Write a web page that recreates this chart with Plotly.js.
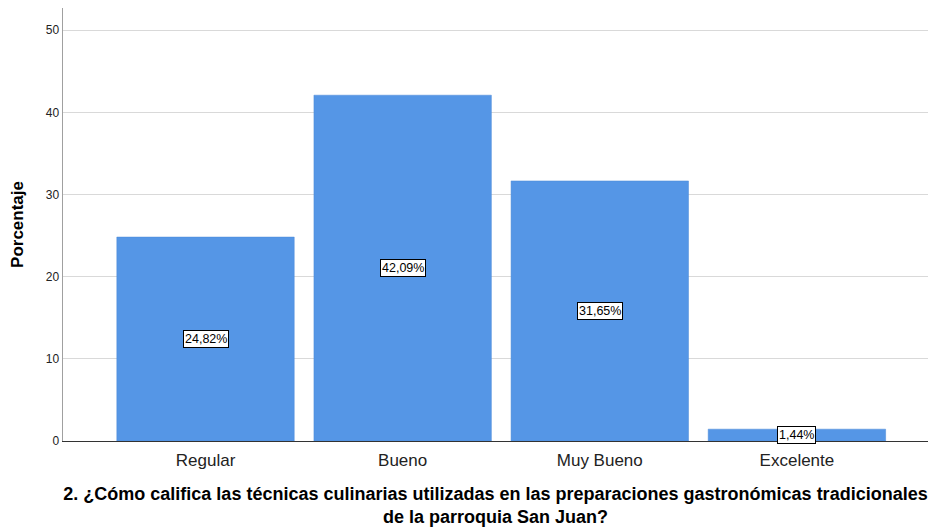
<!DOCTYPE html>
<html>
<head>
<meta charset="utf-8">
<script src="https://cdn.plot.ly/plotly-3.0.1.min.js"></script>
<style>html,body{margin:0;padding:0;background:#fff;}#chart{width:928px;height:527px;}</style>
</head>
<body>
<div id="chart"></div>
<script>
const categories = ["Regular", "Bueno", "Muy Bueno", "Excelente"];
const values = [24.82, 42.09, 31.65, 1.44];
const labels = ["24,82%", "42,09%", "31,65%", "1,44%"];
const yTicks = [0, 10, 20, 30, 40, 50];

const trace = {
  type: "bar",
  x: categories,
  y: values,
  marker: {color: "#5596E6", line: {color: "#4a88d6", width: 0.5}},
  hoverinfo: "none"
};

const annotations = categories.map((c, i) => ({
  x: c, y: values[i] / 2, xref: "x", yref: "y",
  text: labels[i], showarrow: false,
  font: {family: "Liberation Sans, Arial, sans-serif", size: 12.5, color: "#000"},
  bgcolor: "#ffffff", bordercolor: "#000000", borderwidth: 1, borderpad: 1
}));

const layout = {
  width: 928, height: 527,
  margin: {l: 63, r: 0, t: 8, b: 86},
  paper_bgcolor: "#ffffff", plot_bgcolor: "#ffffff",
  bargap: 0.1,
  showlegend: false,
  xaxis: {
    type: "category",
    range: [-0.723, 3.665],
    showgrid: false,
    showline: true, linecolor: "#333333", linewidth: 1,
    ticks: "",
    ticklabelstandoff: 4,
    tickfont: {family: "Liberation Sans, Arial, sans-serif", size: 17, color: "#222"},
    title: {
      text: "<b>2. ¿Cómo califica las técnicas culinarias utilizadas en las preparaciones gastronómicas tradicionales<br>de la parroquia San Juan?</b>",
      font: {family: "Liberation Sans, Arial, sans-serif", size: 18, color: "#000"},
      standoff: 24
    },
    automargin: false
  },
  yaxis: {
    range: [0, 52.7],
    tickvals: yTicks,
    ticktext: yTicks.map(String),
    showgrid: true, gridcolor: "#d9d9d9", gridwidth: 1,
    showline: true, linecolor: "#a0a0a0", linewidth: 1.5,
    zeroline: false,
    ticks: "",
    ticklen: 0,
    tickfont: {family: "Liberation Sans, Arial, sans-serif", size: 12, color: "#222"},
    title: {
      text: "<b>Porcentaje</b>",
      font: {family: "Liberation Sans, Arial, sans-serif", size: 17, color: "#000"},
      standoff: 18
    },
    automargin: false
  },
  annotations: annotations
};

Plotly.newPlot("chart", [trace], layout, {displayModeBar: false, staticPlot: true});
</script>
</body>
</html>
